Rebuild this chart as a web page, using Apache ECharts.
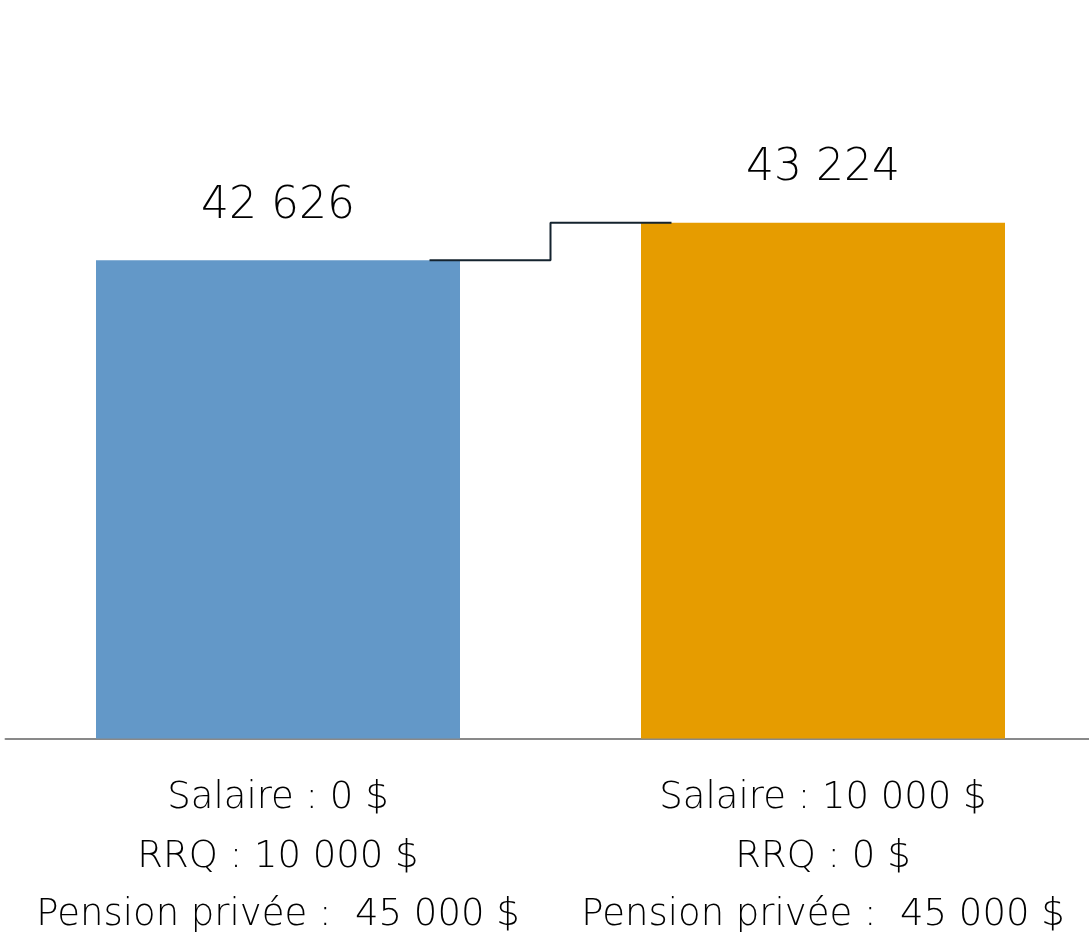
<!DOCTYPE html>
<html>
<head>
<meta charset="utf-8">
<style>
html,body{margin:0;padding:0;background:#fff;}
#chart{width:1089px;height:940px;}
</style>
<script src="https://cdn.jsdelivr.net/npm/echarts@6/dist/echarts.min.js"></script>
</head>
<body>
<div id="chart"></div>
<script>
var categories = [
  'Salaire : 0 $\nRRQ : 10 000 $\nPension privée :  45 000 $',
  'Salaire : 10 000 $\nRRQ : 0 $\nPension privée :  45 000 $'
];
var values = [42626, 43224];
var barColors = ['#6398c8', '#e69c00'];
var valueLabels = ['42 626', '43 224'];

var chart = echarts.init(document.getElementById('chart'), null, {renderer: 'canvas'});
var FONT = '"DejaVu Sans", "Open Sans", sans-serif';
var reach = 0.278;
var connector = [[0 + reach, values[0]], [1 - reach, values[1]]];

chart.setOption({
  animation: false,
  backgroundColor: '#ffffff',
  grid: {left: 5.5, right: -6.5, top: 111.5, bottom: 201.5, containLabel: false, outerBoundsMode: 'none'},
  xAxis: [
    {
      type: 'category',
      data: categories,
      axisTick: {show: false},
      axisLine: {show: true, lineStyle: {color: '#898989', width: 2}},
      axisLabel: {
        interval: 0,
        margin: 31,
        color: '#000000',
        fontFamily: FONT,
        fontWeight: 200,
        fontSize: 37,
        lineHeight: 58.5,
        align: 'center'
      }
    },
    {
      type: 'value',
      min: -0.5,
      max: 1.5,
      show: false
    }
  ],
  yAxis: {
    type: 'value',
    min: 35000,
    max: 45000,
    show: false,
    splitLine: {show: false}
  },
  series: [
    {
      type: 'bar',
      xAxisIndex: 0,
      barWidth: 364,
      data: values.map(function (v, i) {
        return {value: v, itemStyle: {color: barColors[i]}};
      }),
      label: {
        show: true,
        position: 'top',
        distance: 32,
        color: '#000000',
        fontFamily: FONT,
        fontWeight: 200,
        fontSize: 44,
        formatter: function (p) { return valueLabels[p.dataIndex]; }
      }
    },
    {
      type: 'line',
      xAxisIndex: 1,
      step: 'middle',
      symbol: 'none',
      data: connector,
      lineStyle: {color: '#14232e', width: 2},
      z: 5
    }
  ]
});
</script>
</body>
</html>
